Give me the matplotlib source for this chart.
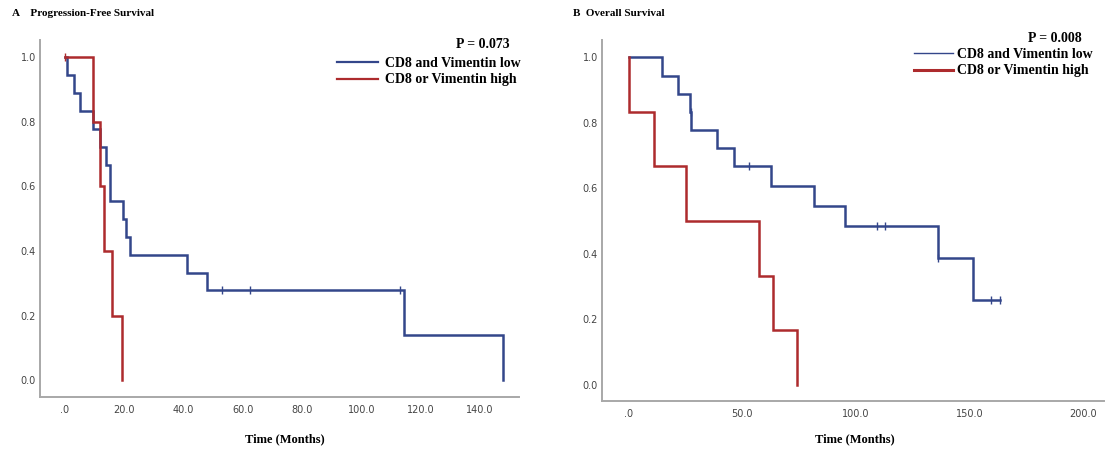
import numpy as np
import matplotlib
matplotlib.use("Agg")
import matplotlib.pyplot as plt
from matplotlib.lines import Line2D

# ---- data ----
# A: progression-free survival
pfs_low_t = [0, 0.7, 3.1, 5.1, 9.6, 11.7, 13.8, 15.3, 19.7, 20.5, 21.9, 41.2, 47.8, 114.3, 147.8]
pfs_low_s = [1.0, 0.944, 0.889, 0.833, 0.778, 0.722, 0.667, 0.556, 0.500, 0.444, 0.389, 0.333, 0.278, 0.139, 0.0]
pfs_low_cens = [53.0, 62.5, 113.2]

pfs_high_t = [0, 9.4, 12.0, 13.1, 15.8, 19.3]
pfs_high_s = [1.0, 0.8, 0.6, 0.4, 0.2, 0.0]
pfs_high_cens = [0.0]

# B: overall survival
os_low_t = [0, 14.6, 21.6, 27.0, 27.6, 38.7, 46.4, 62.5, 81.5, 95.0, 135.8, 151.4, 163.1]
os_low_s = [1.0, 0.944, 0.889, 0.833, 0.778, 0.722, 0.667, 0.606, 0.545, 0.485, 0.388, 0.259, 0.259]
os_low_cens = [27.3, 52.9, 109.2, 112.9, 135.8, 159.4, 163.1]

os_high_t = [0, 0.0, 11.2, 25.3, 57.2, 63.5, 74.2]
os_high_s = [1.0, 0.833, 0.667, 0.500, 0.333, 0.167, 0.0]
os_high_cens = []

labels = ["CD8 and Vimentin low", "CD8 or Vimentin high"]
p_values = ["P = 0.073", "P = 0.008"]
titles = ["A    Progression-Free Survival", "B  Overall Survival"]

BLUE = "#33468a"
RED = "#ad2b2d"
SERIF = "Liberation Serif"

#######################################################

def surv_at(t_list, s_list, t):
    idx = np.searchsorted(t_list, t, side="right") - 1
    return s_list[max(idx, 0)]

def km(ax, t_list, s_list, cens, color):
    ax.step(t_list, s_list, where="post", color=color, lw=1.8, solid_joinstyle="miter")
    for c in cens:
        ax.plot([c], [surv_at(t_list, s_list, c)], marker="|", ms=6, mew=1.0, color=color)

def style(ax, xticks, xlim, ylim):
    ax.set_xlim(*xlim)
    ax.set_ylim(*ylim)
    for s in ["top", "right"]:
        ax.spines[s].set_visible(False)
    for s in ["left", "bottom"]:
        ax.spines[s].set_color("#a8a8a8")
        ax.spines[s].set_linewidth(1.4)
    ax.set_xticks(xticks)
    ax.set_xticklabels([(".0" if v == 0 else "%.1f" % v) for v in xticks])
    yt = [0, 0.2, 0.4, 0.6, 0.8, 1.0]
    ax.set_yticks(yt)
    ax.set_yticklabels(["%.1f" % v for v in yt])
    ax.tick_params(length=0, labelsize=7, labelcolor="#444444")
    ax.tick_params(axis="x", pad=5.5)
    ax.tick_params(axis="y", pad=3)

fig = plt.figure(figsize=(11.06, 4.53), dpi=100)
W, H = 1106.0, 453.0

axA = fig.add_axes([40 / W, 1 - 397 / H, 479 / W, 357 / H])
axB = fig.add_axes([602 / W, 1 - 401 / H, 502 / W, 361 / H])

km(axA, pfs_low_t, pfs_low_s, pfs_low_cens, BLUE)
km(axA, pfs_high_t, pfs_high_s, pfs_high_cens, RED)
style(axA, [0, 20, 40, 60, 80, 100, 120, 140], (-8.4, 153.2), (-0.052, 1.053))

km(axB, os_low_t, os_low_s, os_low_cens, BLUE)
km(axB, os_high_t, os_high_s, os_high_cens, RED)
style(axB, [0, 50, 100, 150, 200], (-11.7, 209), (-0.049, 1.053))

# titles and axis labels
fig.text(12 / W, 1 - 13 / H, titles[0], fontsize=8, fontweight="bold", family=SERIF, va="center")
fig.text(573 / W, 1 - 13 / H, titles[1], fontsize=8, fontweight="bold", family=SERIF, va="center")
fig.text(285 / W, 1 - 439 / H, "Time (Months)", fontsize=9, fontweight="bold", family=SERIF, ha="center", va="center")
fig.text(855 / W, 1 - 439 / H, "Time (Months)", fontsize=9, fontweight="bold", family=SERIF, ha="center", va="center")

# p values
fig.text(510 / W, 1 - 45 / H, p_values[0], fontsize=10, fontweight="bold", family=SERIF, ha="right", va="center")
fig.text(1082 / W, 1 - 39 / H, p_values[1], fontsize=10, fontweight="bold", family=SERIF, ha="right", va="center")

# legends
prop = {"family": SERIF, "weight": "bold", "size": 10}
hA = [Line2D([], [], color=BLUE, lw=1.6), Line2D([], [], color=RED, lw=1.6)]
fig.legend(hA, labels, loc="upper right", bbox_to_anchor=(521 / W, 1 - 57 / H), frameon=False,
           prop=prop, handlelength=3.0, handletextpad=0.5, labelspacing=0.25,
           borderpad=0, borderaxespad=0)
hB = [Line2D([], [], color=BLUE, lw=1.0), Line2D([], [], color=RED, lw=2.2)]
fig.legend(hB, labels, loc="upper right", bbox_to_anchor=(1093 / W, 1 - 48 / H), frameon=False,
           prop=prop, handlelength=2.8, handletextpad=0.3, labelspacing=0.25,
           borderpad=0, borderaxespad=0)

fig.savefig("out.png", dpi=100, facecolor="white")
